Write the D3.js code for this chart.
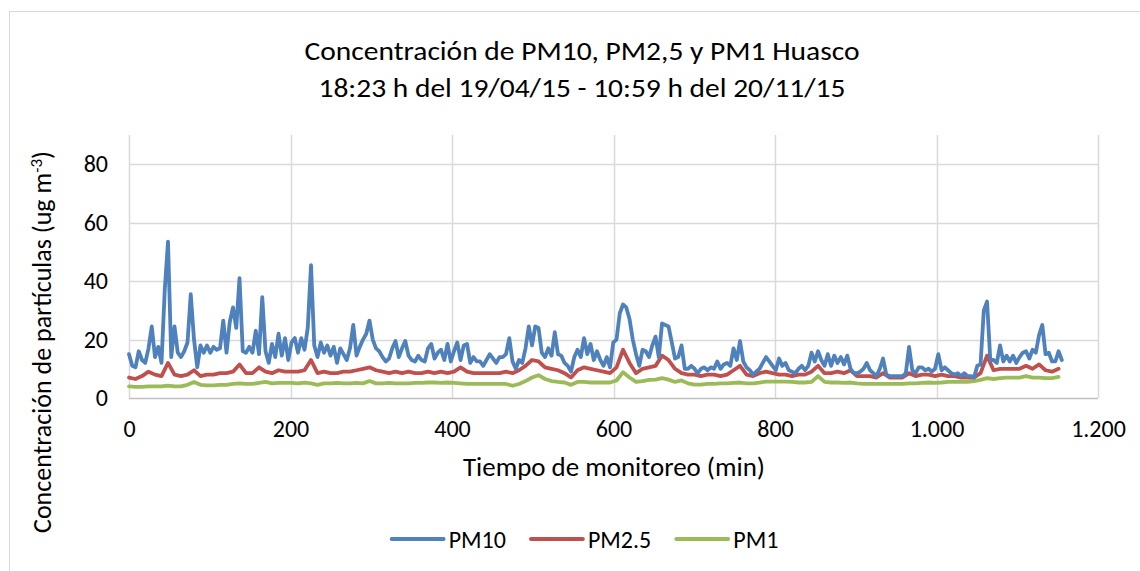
<!DOCTYPE html>
<html>
<head>
<meta charset="utf-8">
<script src="https://cdn.jsdelivr.net/npm/d3@7"></script>
<style>
  html, body { margin: 0; padding: 0; background: #fff; }
  svg { display: block; font-family: Carlito, Calibri, Lato, sans-serif; }
</style>
</head>
<body>
<div id="chart"></div>
<script>
/* PM10 / PM2.5 / PM1 Huasco - line chart */

// minutes between readings of each series
const STEP_PM10 = 4.025;
const STEP_FINE = 8.05;

// PM10 (ug m-3), one value per STEP_PM10 from 0
const PM10 = [
  15, 11, 10.5, 16, 13, 12, 17, 24.5, 14, 17.5,
  12, 37, 53.5, 14, 24.5, 15.5, 14, 16, 19, 35.5,
  20, 10.5, 18, 15.5, 18, 15.5, 17.5, 16.5, 17, 26.5,
  15.5, 26, 31, 24, 41, 16, 15.5, 17.5, 15.5, 23,
  15, 34.5, 16, 12, 18.5, 14, 22, 14.5, 20.5, 13,
  19, 20.5, 15.5, 20.5, 16.5, 24, 45.5, 18, 14, 19,
  15.5, 18, 14.5, 17.5, 12, 17, 15, 13, 17, 25,
  14.5, 17.5, 20, 22, 26.5, 20, 17, 16, 14, 12.5,
  13.5, 17, 19.5, 14, 17, 19.5, 14.5, 13, 12.5, 14.5,
  13, 12.5, 17, 18.5, 13.5, 15.5, 16.5, 13, 18.5, 12.5,
  16, 19, 13, 18, 18.5, 12, 14, 12.5, 12.5, 11,
  13, 15, 13.5, 12, 14, 14, 15, 20.5, 12.5, 10,
  13, 12, 17, 24.5, 18, 24.5, 24, 15.5, 14, 17,
  14.5, 22.5, 15, 14.5, 12, 11, 9, 14, 16.5, 14,
  20.5, 15, 18.5, 13, 16, 13, 11, 14, 10.5, 19,
  20, 29, 32, 31, 27, 20, 15, 11, 16.5, 16,
  14, 18, 21, 14, 25.5, 25, 24.5, 19, 13.5, 14,
  18, 10, 10, 11, 10, 8.5, 10, 10.5, 9.5, 10.5,
  10, 12.5, 10, 11.5, 12, 11, 17, 13, 19.5, 12.5,
  10.5, 9.5, 8, 9, 10, 12, 14, 12.5, 11, 9.5,
  13.5, 11, 12, 9.5, 9, 8.5, 10, 11, 9.5, 11,
  15.5, 12.5, 16, 13, 11, 15, 11, 14.5, 12, 14,
  11.5, 14.5, 10, 8.5, 8.5, 9, 10, 12, 9.5, 8.5,
  7.5, 10, 13.5, 8, 7.5, 7.5, 7.5, 7.5, 7.5, 8.5,
  17.5, 9.5, 8.5, 10.5, 10.5, 9.5, 10, 9, 10, 15,
  9.5, 10.5, 9.5, 8.5, 8, 8.5, 7.5, 8.5, 7.5, 7.5,
  7, 11, 11.5, 30, 33, 13, 13, 12, 18, 12.5,
  14.5, 12.5, 14.5, 12, 14, 15.5, 16, 13.5, 16.5, 15.5,
  21.5, 25, 15, 15.5, 12.5, 12.5, 16, 13
];

// PM2.5 (ug m-3), one value per STEP_FINE from 0
const PM25 = [
  7, 6.5, 7.5, 9, 8, 7.5, 12, 8, 7.5, 8,
  9.5, 7.5, 8, 8, 8.5, 8.5, 9, 11.5, 8.5, 8.5,
  10.5, 9, 8.5, 9.5, 9, 9, 9, 9.5, 13, 8.5,
  9, 8.5, 8.5, 9, 9, 9.5, 10, 10.5, 9.5, 9,
  8.5, 9, 8.5, 9, 8.5, 8.5, 9, 8.5, 9, 8.5,
  9, 10.5, 9, 8.5, 8.5, 8.5, 8.5, 8.5, 9, 8.5,
  9.5, 11, 13, 12.5, 10.5, 10, 9.5, 8.5, 7, 9.5,
  10.5, 10, 9.5, 9, 8.5, 10.5, 16.5, 12, 8.5, 10,
  10.5, 11, 14.5, 13, 10, 8.5, 8, 8, 7.5, 8,
  8, 7.5, 8, 9.5, 11, 8, 7.5, 8.5, 9, 8.5,
  8, 8, 7.5, 8, 8, 9, 11, 8.5, 8.5, 9,
  8.5, 9.5, 7.5, 7.5, 7.5, 7, 8.5, 7, 7, 7,
  8.5, 7.5, 8, 8, 7.5, 8, 7.5, 7.5, 7, 7,
  7, 8.5, 14.5, 9.5, 10, 10, 10, 10, 11, 10,
  11.5, 9.5, 9, 10
];

// PM1 (ug m-3), one value per STEP_FINE from 0
const PM1 = [
  4, 3.8, 3.8, 4, 4, 4, 4.2, 4, 4, 4.5,
  5.5, 4.5, 4.3, 4.3, 4.5, 4.5, 4.8, 5, 4.8, 4.8,
  5.2, 5.5, 5, 5.2, 5.2, 5.2, 5, 5.3, 5, 4.5,
  5, 5, 5.2, 5, 5, 5.2, 5, 5.8, 5, 5,
  5.2, 5, 5, 5, 5.2, 5.2, 5.3, 5.3, 5.2, 5.3,
  5.2, 5, 4.8, 4.8, 4.8, 4.8, 4.8, 4.8, 4.8, 4.2,
  4.8, 5.8, 7, 7.8, 6.5, 5.8, 5.5, 5.3, 4.5, 5.5,
  5.5, 5.3, 5.3, 5.3, 5.3, 6, 8.8, 7, 5.5, 5.8,
  6.2, 6.3, 6.8, 6.3, 5.5, 6, 5, 4.6, 4.6, 4.8,
  4.8, 5, 5, 5.2, 5.3, 5, 5, 5.3, 5.6, 5.6,
  5.6, 5.6, 5.5, 5.3, 5.3, 5.5, 7.5, 5.5, 5.3, 5.3,
  5.2, 5.3, 5, 4.8, 4.8, 4.8, 4.8, 4.8, 4.8, 4.8,
  5, 5, 5.2, 5.3, 5.2, 5.3, 5.5, 5.5, 5.5, 5.5,
  5.8, 6.2, 6.8, 6.5, 6.8, 7, 7, 7, 7.5, 7,
  7, 6.8, 6.8, 7.2
];

const X_TICKS = [0, 200, 400, 600, 800, 1000, 1200];
const Y_TICKS = [0, 20, 40, 60, 80];
const X_MAX = 1200;
const Y_MAX = 90;

const TITLE_LINES = [
  'Concentración de PM10, PM2,5 y PM1 Huasco',
  '18:23 h del 19/04/15 - 10:59 h del 20/11/15',
];
const X_TITLE = 'Tiempo de monitoreo (min)';

const SERIES = [
  { name: 'PM10', values: PM10, step: STEP_PM10, color: '#4f81bd' },
  { name: 'PM2.5', values: PM25, step: STEP_FINE, color: '#c0504d' },
  { name: 'PM1', values: PM1, step: STEP_FINE, color: '#9bbb59' },
];

/* ── Layout ────────────────────────────────────────────────────────── */

const width = 1140;
const height = 571;
const plot = { left: 129, right: 1098, top: 135, bottom: 398 };
const FONT = 'Carlito, Calibri, Lato, sans-serif';

const svg = d3.select('#chart')
  .append('svg')
  .attr('width', width)
  .attr('height', height);

svg.append('rect')
  .attr('width', width)
  .attr('height', height)
  .attr('fill', '#fff');

// outer chart frame (right edge falls outside the picture)
svg.append('rect')
  .attr('x', 9.5)
  .attr('y', 11.5)
  .attr('width', 1140)
  .attr('height', 575)
  .attr('fill', 'none')
  .attr('stroke', '#d9d9d9')
  .attr('stroke-width', 1);

const x = d3.scaleLinear().domain([0, X_MAX]).range([plot.left, plot.right]);
const y = d3.scaleLinear().domain([0, Y_MAX]).range([plot.bottom, plot.top]);

const esLocale = d3.formatLocale({ decimal: ',', thousands: '.', grouping: [3], currency: ['', ''] });
const fmtX = esLocale.format(',d');

/* ── Grid ──────────────────────────────────────────────────────────── */

svg.append('g')
  .selectAll('line')
  .data(Y_TICKS.filter(d => d > 0))
  .join('line')
  .attr('x1', plot.left)
  .attr('x2', plot.right)
  .attr('y1', d => Math.round(y(d)) + 0.5)
  .attr('y2', d => Math.round(y(d)) + 0.5)
  .attr('stroke', '#d9d9d9')
  .attr('stroke-width', 1.5);

svg.append('g')
  .selectAll('line')
  .data(X_TICKS)
  .join('line')
  .attr('x1', d => Math.round(x(d)) + 0.5)
  .attr('x2', d => Math.round(x(d)) + 0.5)
  .attr('y1', plot.top)
  .attr('y2', plot.bottom)
  .attr('stroke', '#d9d9d9')
  .attr('stroke-width', 1.5);

// bottom axis line
svg.append('line')
  .attr('x1', plot.left)
  .attr('x2', plot.right)
  .attr('y1', y(0) + 0.5)
  .attr('y2', y(0) + 0.5)
  .attr('stroke', '#bfbfbf')
  .attr('stroke-width', 1.5);

/* ── Axes labels ───────────────────────────────────────────────────── */

const xAxis = svg.append('g')
  .attr('transform', `translate(0,${plot.bottom})`)
  .call(d3.axisBottom(x).tickValues(X_TICKS).tickFormat(fmtX).tickSize(0).tickPadding(22));
xAxis.select('.domain').remove();
xAxis.selectAll('text')
  .attr('font-size', 24)
  .attr('font-family', FONT)
  .attr('fill', '#000');

const yAxis = svg.append('g')
  .attr('transform', `translate(${plot.left},0)`)
  .call(d3.axisLeft(y).tickValues(Y_TICKS).tickSize(0).tickPadding(21));
yAxis.select('.domain').remove();
yAxis.selectAll('text')
  .attr('font-size', 24)
  .attr('font-family', FONT)
  .attr('fill', '#000');

/* ── Series ────────────────────────────────────────────────────────── */

const line = d3.line()
  .x(d => x(d.t))
  .y(d => y(d.v));

svg.append('g')
  .selectAll('path')
  .data(SERIES.slice().reverse())
  .join('path')
  .attr('d', s => line(s.values.map((v, i) => ({ t: i * s.step, v }))))
  .attr('fill', 'none')
  .attr('stroke', s => s.color)
  .attr('stroke-width', 3.8)
  .attr('stroke-linejoin', 'round')
  .attr('stroke-linecap', 'round');

/* ── Titles ────────────────────────────────────────────────────────── */

const titleWidths = [555, 527];
svg.append('g')
  .selectAll('text')
  .data(TITLE_LINES)
  .join('text')
  .attr('x', 582)
  .attr('y', (d, i) => 60 + i * 37)
  .attr('text-anchor', 'middle')
  .attr('font-size', 27)
  .attr('textLength', (d, i) => titleWidths[i])
  .attr('lengthAdjust', 'spacingAndGlyphs')
  .attr('fill', '#000')
  .text(d => d);

svg.append('text')
  .attr('x', 614)
  .attr('y', 476)
  .attr('text-anchor', 'middle')
  .attr('font-size', 26)
  .attr('textLength', 302)
  .attr('lengthAdjust', 'spacingAndGlyphs')
  .attr('fill', '#000')
  .text(X_TITLE);

const yTitle = svg.append('text')
  .attr('transform', 'translate(51,342) rotate(-90)')
  .attr('text-anchor', 'middle')
  .attr('font-size', 26)
  .attr('fill', '#000');
yTitle.append('tspan').text('Concentración de partículas (ug m');
yTitle.append('tspan').attr('dy', -9).attr('font-size', 17).text('-3');
yTitle.append('tspan').attr('dy', 9).text(')');

/* ── Legend ────────────────────────────────────────────────────────── */

const legend = svg.append('g');
const items = legend.selectAll('g')
  .data(SERIES)
  .join('g');

items.append('line')
  .attr('x1', 0)
  .attr('x2', 52)
  .attr('y1', 0)
  .attr('y2', 0)
  .attr('stroke', s => s.color)
  .attr('stroke-width', 3.8)
  .attr('stroke-linecap', 'round');

items.append('text')
  .attr('x', 57)
  .attr('y', 8.5)
  .attr('font-size', 24)
  .attr('fill', '#000')
  .text(s => s.name);

let offset = 0;
const widths = [];
items.each(function () {
  widths.push(57 + this.querySelector('text').getComputedTextLength());
});
const gap = 25;
const total = d3.sum(widths) + gap * (widths.length - 1);
const start = 585 - total / 2;
items.attr('transform', (d, i) => {
  const tx = start + offset;
  offset += widths[i] + gap;
  return `translate(${tx},539)`;
});
</script>
</body>
</html>
